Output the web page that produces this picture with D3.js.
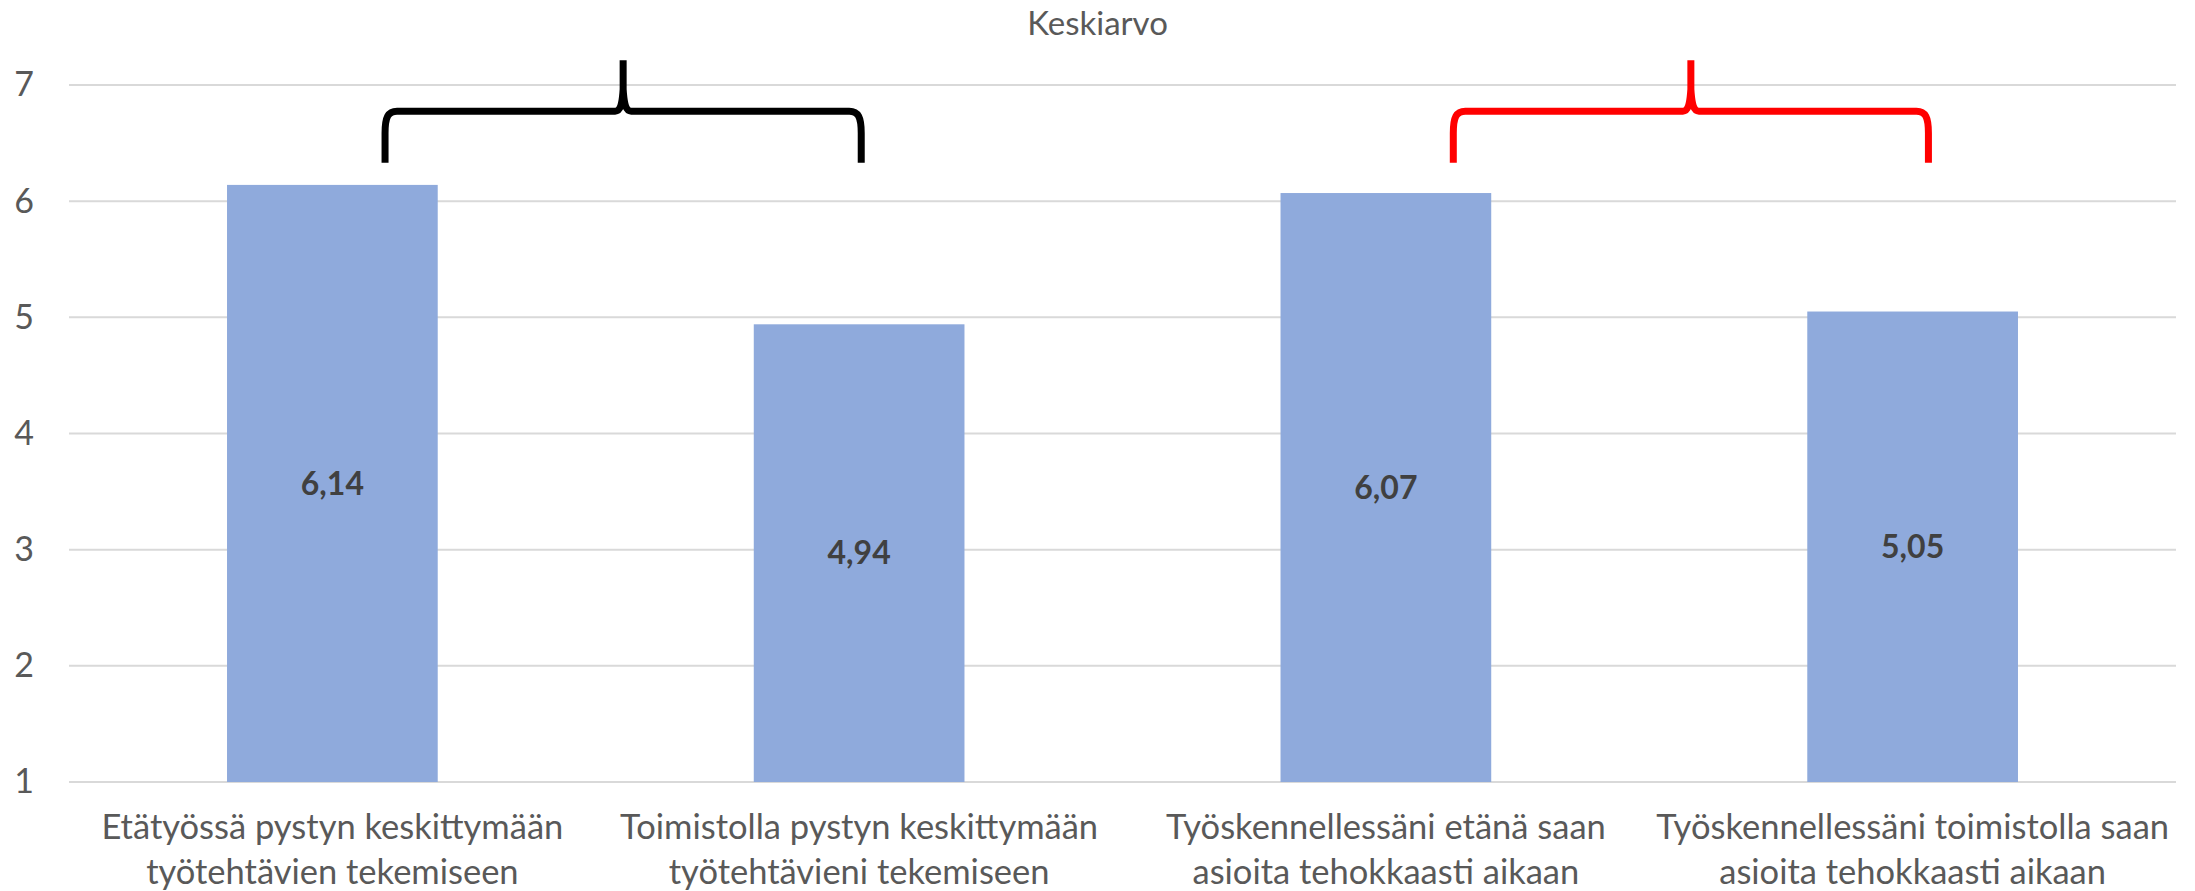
<!DOCTYPE html>
<html>
<head>
<meta charset="utf-8">
<script src="https://cdn.jsdelivr.net/npm/d3@7"></script>
<style>
  html, body { margin: 0; padding: 0; background: #fff; }
  svg { display: block; }
</style>
</head>
<body>
<svg id="chart" width="2195" height="891"></svg>
<script>
// Survey statements (two-line labels) and their mean scores
const categoryLines = [
  ["Etätyössä pystyn keskittymään", "työtehtävien tekemiseen"],
  ["Toimistolla pystyn keskittymään", "työtehtävieni tekemiseen"],
  ["Työskennellessäni etänä saan", "asioita tehokkaasti aikaan"],
  ["Työskennellessäni toimistolla saan", "asioita tehokkaasti aikaan"]
];
const meanValues = [6.14, 4.94, 6.07, 5.05];
const meanLabels = ["6,14", "4,94", "6,07", "5,05"];
const yTicks = [1, 2, 3, 4, 5, 6, 7];
const chartTitle = "Keskiarvo";

// Brace annotations grouping the remote/office pairs: span in category index units,
// heights in axis units (foot, crossbar, tip)
const braceFrom = [0.1, 2.128];
const braceTo = [1.004, 3.03];
const braceColors = ["#000000", "#ff0000"];
const braceLevels = [6.33, 6.775, 7.213];

const svg = d3.select("#chart");
const W = 2195;
const FONT = "Lato, 'Open Sans', sans-serif";

const plotLeft = 69, plotRight = 2176, plotTop = 85, plotBottom = 782;

const x = d3.scaleBand()
  .domain(d3.range(categoryLines.length))
  .range([plotLeft, plotRight])
  .paddingInner(0.6)
  .paddingOuter(0.3);

const y = d3.scaleLinear().domain([1, 7]).range([plotBottom, plotTop]);

const centre = i => x(i) + x.bandwidth() / 2;
const xIdx = d3.scaleLinear()
  .domain([0, categoryLines.length - 1])
  .range([centre(0), centre(categoryLines.length - 1)]);

// Gridlines
svg.append("g")
  .selectAll("line")
  .data(yTicks)
  .join("line")
  .attr("x1", plotLeft)
  .attr("x2", plotRight)
  .attr("y1", d => y(d))
  .attr("y2", d => y(d))
  .attr("stroke", "#d9d9d9")
  .attr("stroke-width", 2);

// Y axis labels
const yAxis = d3.axisLeft(y).tickValues(yTicks).tickSize(0).tickPadding(0).tickFormat(d3.format("d"));
svg.append("g")
  .attr("transform", "translate(34,0)")
  .call(yAxis)
  .call(g => g.select(".domain").remove())
  .call(g => g.selectAll("text")
    .attr("font-family", FONT)
    .attr("font-size", 34)
    .attr("fill", "#595959"));

// Bars
svg.append("g")
  .selectAll("rect")
  .data(meanValues)
  .join("rect")
  .attr("x", (d, i) => x(i))
  .attr("width", x.bandwidth())
  .attr("y", d => y(d))
  .attr("height", d => y(1) - y(d))
  .attr("fill", "#8faadc");

// Value labels centred inside bars
svg.append("g")
  .selectAll("text")
  .data(meanValues)
  .join("text")
  .attr("x", (d, i) => centre(i))
  .attr("y", d => (y(d) + y(1)) / 2)
  .attr("dy", "0.35em")
  .attr("text-anchor", "middle")
  .attr("font-family", FONT)
  .attr("font-weight", "bold")
  .attr("font-size", 32)
  .attr("fill", "#404040")
  .text((d, i) => meanLabels[i]);

// Category labels
const catG = svg.append("g")
  .selectAll("text")
  .data(categoryLines)
  .join("text")
  .attr("text-anchor", "middle")
  .attr("font-family", FONT)
  .attr("font-size", 34.5)
  .attr("fill", "#595959");
catG.selectAll("tspan")
  .data((d, i) => d.map(line => ({ line, i })))
  .join("tspan")
  .attr("x", d => centre(d.i))
  .attr("y", (d, j) => 839 + j * 45)
  .text(d => d.line);

// Title
svg.append("text")
  .attr("x", W / 2)
  .attr("y", 35)
  .attr("text-anchor", "middle")
  .attr("font-family", FONT)
  .attr("font-size", 33)
  .attr("fill", "#595959")
  .text(chartTitle);

// Curly braces
function bracePath(xl, xr, yb, yh, yt) {
  const xm = (xl + xr) / 2;
  const half = (xa, dir) =>
    `M${xa},${yb} L${xa},${yh + 22} C${xa},${yh + 6} ${xa + dir * 3},${yh} ${xa + dir * 12},${yh} ` +
    `L${xm - dir * 8},${yh} C${xm - dir * 3},${yh} ${xm - dir * 1},${yh - 6} ${xm},${yh - 22} L${xm},${yt}`;
  return half(xl, 1) + " " + half(xr, -1);
}
svg.append("g")
  .selectAll("path")
  .data(braceFrom)
  .join("path")
  .attr("d", (d, i) => bracePath(xIdx(d), xIdx(braceTo[i]),
    y(braceLevels[0]), y(braceLevels[1]), y(braceLevels[2])))
  .attr("fill", "none")
  .attr("stroke", (d, i) => braceColors[i])
  .attr("stroke-width", 7)
  .attr("stroke-linejoin", "round");
</script>
</body>
</html>
